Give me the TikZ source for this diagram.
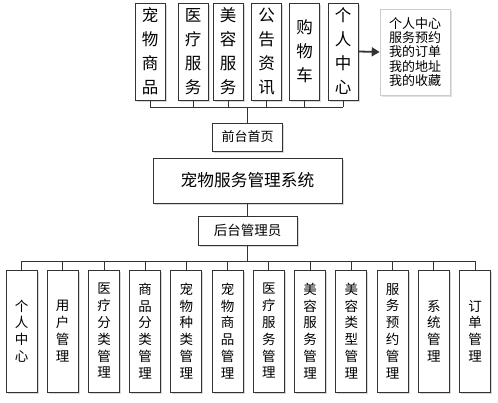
\documentclass[tikz,border=0pt]{standalone}
\usepackage{fontspec}
\newfontfamily\cjk{Noto Sans CJK SC}
\usetikzlibrary{shadows,arrows.meta}
\begin{document}
\begin{tikzpicture}[x=1pt,y=-1pt,
  box/.style={draw=black!80,line width=0.9pt,fill=white,inner sep=0pt,align=center,
    drop shadow={shadow xshift=1.5pt,shadow yshift=-1.5pt,fill=black!25,opacity=0.6}},
  topbox/.style={box,minimum width=30pt,minimum height=97pt,font=\cjk\fontsize{16.5}{24}\selectfont},
  botbox/.style={box,minimum width=31pt,minimum height=122pt,font=\cjk\fontsize{13.5}{16.8}\selectfont},
  line/.style={draw=black!80,line width=0.9pt}]
\useasboundingbox (0,0) rectangle (498,402);
\fill[white] (0,0) rectangle (498,402);
% top boxes
\node[topbox] (t1) at (150,51.5) {宠\\物\\商\\品};
\node[topbox] (t2) at (193,51.5) {医\\疗\\服\\务};
\node[topbox] (t3) at (228,51.5) {美\\容\\服\\务};
\node[topbox] (t4) at (266.5,51.5) {公\\告\\资\\讯};
\node[topbox] (t5) at (304.5,51.5) {购\\物\\车};
\node[topbox] (t6) at (343,51.5) {个\\人\\中\\心};
\node[draw=black!20,line width=0.6pt,fill=white,minimum width=70pt,minimum height=86pt,inner sep=0pt,align=left,
  font=\cjk\fontsize{13}{14.3}\selectfont,
  drop shadow={shadow xshift=2pt,shadow yshift=-2pt,fill=black!20,opacity=0.6}] (side) at (415,52) {个人中心\\服务预约\\我的订单\\我的地址\\我的收藏};
\draw[line,line width=1.8pt,-{Triangle[length=8pt,width=9pt]}] (t6.east) -- (side.west);
% top bus
\coordinate (busT) at (247.5,107);
\foreach \i in {1,...,6} {\draw[line] (t\i.south) -- (t\i.south |- busT);}
\draw[line] (t1.south |- busT) -- (t6.south |- busT);
% middle
\node[box,minimum width=70pt,minimum height=28pt,font=\cjk\fontsize{13}{15}\selectfont] (front) at (247.5,137) {前台首页};
\node[box,minimum width=189pt,minimum height=45pt,font=\cjk\fontsize{16.7}{20}\selectfont] (main) at (247.5,180.5) {宠物服务管理系统};
\node[box,minimum width=99pt,minimum height=29pt,font=\cjk\fontsize{13.5}{16}\selectfont] (admin) at (247.5,230.5) {后台管理员};
\draw[line] (busT) -- (front.north);
\draw[line] (main.south) -- (admin.north);
% bottom
\coordinate (busB) at (247.5,261);
\node[botbox] (b1) at (21.5,331) {个\\人\\中\\心};
\node[botbox] (b2) at (62.7,331) {用\\户\\管\\理};
\node[botbox] (b3) at (104,331) {医\\疗\\分\\类\\管\\理};
\node[botbox] (b4) at (145.2,331) {商\\品\\分\\类\\管\\理};
\node[botbox] (b5) at (186.4,331) {宠\\物\\种\\类\\管\\理};
\node[botbox] (b6) at (227.6,331) {宠\\物\\商\\品\\管\\理};
\node[botbox] (b7) at (268.9,331) {医\\疗\\服\\务\\管\\理};
\node[botbox] (b8) at (310.1,331) {美\\容\\服\\务\\管\\理};
\node[botbox] (b9) at (351.3,331) {美\\容\\类\\型\\管\\理};
\node[botbox] (b10) at (392.5,331) {服\\务\\预\\约\\管\\理};
\node[botbox] (b11) at (433.8,331) {系\\统\\管\\理};
\node[botbox] (b12) at (475,331) {订\\单\\管\\理};
\draw[line] (admin.south) -- (busB);
\draw[line] (b1.north |- busB) -- (b12.north |- busB);
\foreach \i in {1,...,12} {\draw[line] (b\i.north) -- (b\i.north |- busB);}
\end{tikzpicture}
\end{document}
